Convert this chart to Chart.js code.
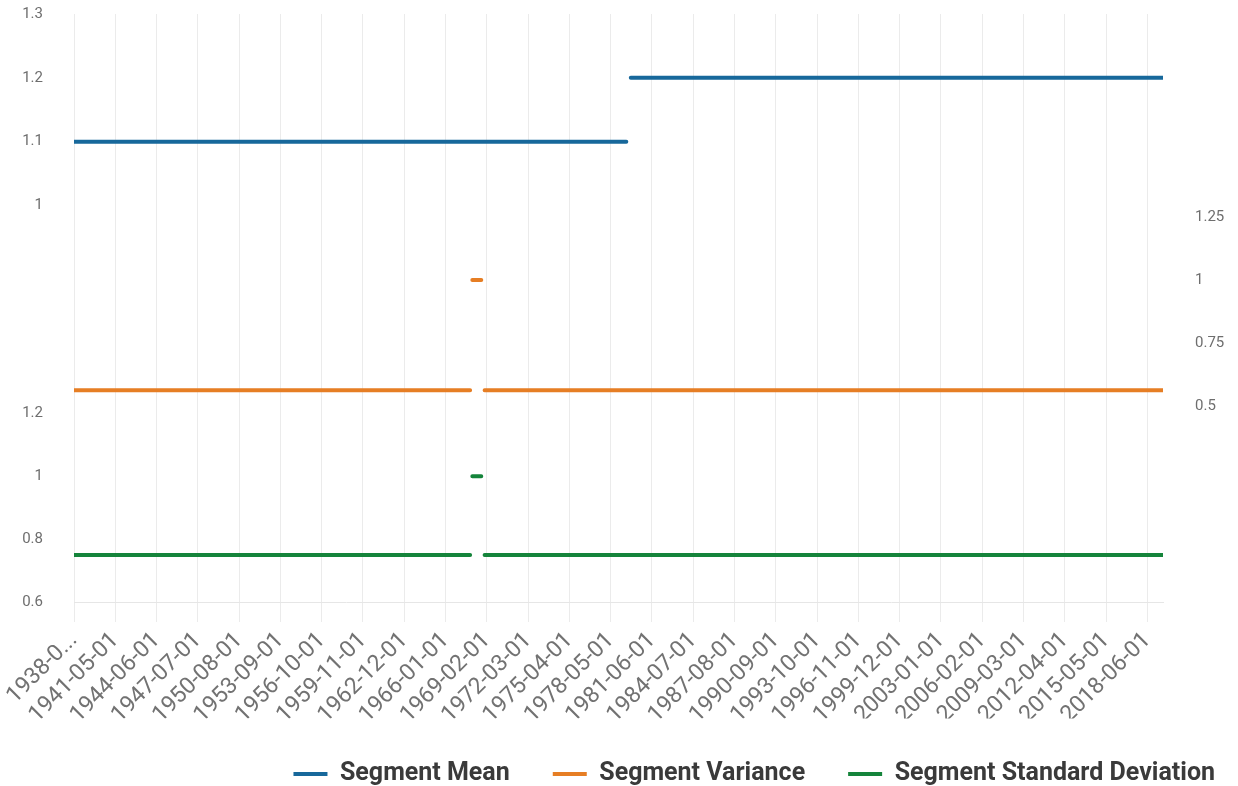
<!DOCTYPE html>
<html>
<head>
<meta charset="utf-8">
<script src="https://cdn.jsdelivr.net/npm/chart.js@4.4.1/dist/chart.umd.min.js"></script>
<style>
  html, body { margin: 0; padding: 0; background: #ffffff; }
  #wrap { width: 1238px; height: 786px; position: relative; }
</style>
</head>
<body>
<div id="wrap"><canvas id="c"></canvas></div>
<script>
// ---- Data ----
const xTickLabels = ['1938-04-01','1941-05-01','1944-06-01','1947-07-01','1950-08-01','1953-09-01','1956-10-01',
  '1959-11-01','1962-12-01','1966-01-01','1969-02-01','1972-03-01','1975-04-01','1978-05-01','1981-06-01',
  '1984-07-01','1987-08-01','1990-09-01','1993-10-01','1996-11-01','1999-12-01','2003-01-01','2006-02-01',
  '2009-03-01','2012-04-01','2015-05-01','2018-06-01'];
const firstMonth = '1938-04';
const lastMonth = '2019-08';

// Segment Mean: constant segments
const meanSegStart = ['1938-04', '1979-11'];
const meanSegEnd   = ['1979-07', '2019-08'];
const meanValues   = [1.1, 1.2];

// Segment Variance
const varSegStart = ['1938-04', '1968-01', '1968-12'];
const varSegEnd   = ['1967-11', '1968-09', '2019-08'];
const varValues   = [0.5625, 1.0, 0.5625];

// Segment Standard Deviation
const sdSegStart = ['1938-04', '1968-01', '1968-12'];
const sdSegEnd   = ['1967-11', '1968-09', '2019-08'];
const sdValues   = [0.75, 1.0, 0.75];

// ---- helpers ----
function monthIndex(s) {
  const [y, m] = s.split('-').map(Number);
  const [y0, m0] = firstMonth.split('-').map(Number);
  return (y - y0) * 12 + (m - m0);
}
function segmentsToPoints(starts, ends, values) {
  const pts = [];
  starts.forEach((s, i) => {
    if (i > 0) pts.push({ x: (monthIndex(ends[i - 1]) + monthIndex(s)) / 2, y: null });
    pts.push({ x: monthIndex(s), y: values[i] });
    pts.push({ x: monthIndex(ends[i]), y: values[i] });
  });
  return pts;
}

const BLUE = '#17689b', ORANGE = '#e67e24', GREEN = '#15843b';
const tickColor = '#6e6e6e';
const fmt = v => String(+(+v).toFixed(3));

Chart.defaults.font.family = 'Roboto';

const lineDs = (label, data, color, axis) => ({
  label, data, yAxisID: axis,
  borderColor: color, backgroundColor: color,
  borderWidth: 4, borderCapStyle: 'round', borderJoinStyle: 'round',
  pointRadius: 0, pointHoverRadius: 0, tension: 0, spanGaps: false, fill: false
});

const yCommon = {
  type: 'linear',
  grid: { display: false, drawTicks: true, tickLength: 28 },
  border: { display: false },
};
const yTicks = (step) => ({ stepSize: step, includeBounds: false, padding: 3, color: tickColor, font: { size: 15 }, callback: fmt });

new Chart(document.getElementById('c'), {
  type: 'line',
  data: {
    datasets: [
      lineDs('Segment Mean', segmentsToPoints(meanSegStart, meanSegEnd, meanValues), BLUE, 'yMean'),
      lineDs('Segment Variance', segmentsToPoints(varSegStart, varSegEnd, varValues), ORANGE, 'yVar'),
      lineDs('Segment Standard Deviation', segmentsToPoints(sdSegStart, sdSegEnd, sdValues), GREEN, 'ySd')
    ]
  },
  options: {
    responsive: true,
    maintainAspectRatio: false,
    animation: false,
    events: [],
    layout: { padding: { top: 14, left: 0, right: -20, bottom: -10.5 } },
    plugins: {
      tooltip: { enabled: false },
      legend: {
        position: 'bottom',
        align: 'end',
        labels: {
          font: { family: 'Roboto', size: 25, weight: 'bold' },
          color: '#3a3a3a',
          boxWidth: 34,
          boxHeight: 4,
          padding: 43,
          generateLabels: (chart) => chart.data.datasets.map((ds, i) => ({
            text: ds.label, fillStyle: ds.borderColor, strokeStyle: ds.borderColor,
            lineWidth: 0, hidden: false, datasetIndex: i, fontColor: '#3a3a3a'
          }))
        }
      }
    },
    scales: {
      x: {
        type: 'linear',
        min: monthIndex(firstMonth),
        max: monthIndex(lastMonth),
        afterBuildTicks: (axis) => { axis.ticks = xTickLabels.map(l => ({ value: monthIndex(l.slice(0, 7)) })); },
        afterFit: (axis) => { axis.height = 116.5; },
        ticks: {
          autoSkip: false, minRotation: 45, maxRotation: 45, padding: 5,
          color: '#727272', font: { size: 23 },
          callback: (v, i) => i === 0 ? xTickLabels[0].slice(0, 6) + '...' : xTickLabels[i]
        },
        grid: { color: '#ebebeb', lineWidth: 1, drawTicks: true, tickLength: 20, tickColor: '#ebebeb' },
        border: { display: true, color: '#e6e6e6', width: 1 }
      },
      yMean: Object.assign({}, yCommon, {
        position: 'left', stack: 'L', weight: 3, min: 0.993, max: 1.3,
        ticks: yTicks(0.1),
        afterFit: (s) => { s.width = 74; }
      }),
      ySpacerL: { type: 'linear', position: 'left', stack: 'L', weight: 2, display: false },
      ySd: Object.assign({}, yCommon, {
        position: 'left', stack: 'L', weight: 1, min: 0.6, max: 1.224,
        ticks: yTicks(0.2),
        afterFit: (s) => { s.width = 74; }
      }),
      ySpacerR1: { type: 'linear', position: 'right', stack: 'R', weight: 1, display: false },
      yVar: Object.assign({}, yCommon, {
        position: 'right', stack: 'R', weight: 2, min: 0.5, max: 1.278,
        grid: { display: false, drawTicks: true, tickLength: 29 },
        ticks: yTicks(0.25),
        afterFit: (s) => { s.width = 95; }
      }),
      ySpacerR2: { type: 'linear', position: 'right', stack: 'R', weight: 3, display: false }
    }
  }
});
</script>
</body>
</html>
